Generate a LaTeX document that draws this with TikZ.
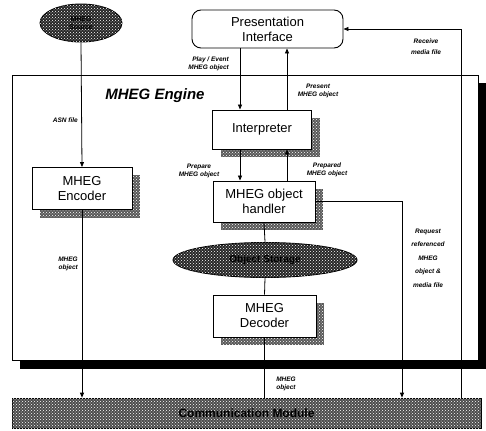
\documentclass[tikz,border=0pt]{standalone}
\usepackage{fontspec}
\setmainfont{Liberation Sans}
\usetikzlibrary{patterns,shadows,arrows.meta,shapes.geometric}
\begin{document}
\begin{tikzpicture}[x=1pt,y=-1pt,
  box/.style={draw,line width=0.9pt,fill=white,minimum width=100pt,minimum height=42pt,inner sep=0pt,align=center,font=\fontsize{13}{15}\selectfont},
  sbox/.style={box,general shadow={shadow xshift=8pt,shadow yshift=-8pt,fill=black!65,postaction={pattern=crosshatch dots,pattern color=white}}},
  dark/.style={draw,line width=0.9pt,fill=black!85,postaction={pattern=crosshatch dots,pattern color=white}},
  lab/.style={font=\fontsize{6.5}{7.5}\selectfont\bfseries\itshape,inner sep=0pt,align=center},
  conn/.style={line width=0.8pt},
  arr/.style={conn,-{Triangle[length=5pt,width=4pt]}}
]
\useasboundingbox (0,0) rectangle (486,430);
% engine frame with shadow
\fill[black] (20,83) rectangle (486,369);
\node[draw,line width=0.9pt,fill=white,minimum width=466pt,minimum height=285pt,inner sep=0pt] (engine) at (245,217.5) {};
\node[font=\fontsize{15}{17}\selectfont\bfseries\itshape,inner sep=0pt] (title) at (155,96) {MHEG Engine};
% nodes
\node[dark,ellipse,minimum width=82pt,minimum height=38pt,inner sep=0pt,align=center,font=\fontsize{7}{8}\selectfont\bfseries] (src) at (81,23) {MHEG\\Source};
\node[draw,line width=0.9pt,rounded corners=9pt,fill=white,minimum width=151pt,minimum height=38pt,inner sep=0pt,align=center,font=\fontsize{13}{15}\selectfont] (pres) at (267.5,29) {Presentation\\Interface};
\node[sbox] (enc) at (82,188.5) {MHEG\\Encoder};
\node[sbox,minimum width=99pt,minimum height=39pt] (interp) at (262,129.5) {Interpreter};
\node[sbox,minimum width=102pt,minimum height=41pt] (hand) at (264,201.5) {MHEG object\\handler};
\node[dark,ellipse,minimum width=184pt,minimum height=35pt,inner sep=0pt,font=\fontsize{10}{12}\selectfont\bfseries] (store) at (265,260) {Object Storage};
\node[draw,line width=0.6pt,fill=black!70,postaction={pattern=crosshatch dots,pattern color=white},minimum width=469pt,minimum height=30pt,inner sep=0pt,font=\fontsize{12}{14}\selectfont\bfseries] (comm) at (246.5,413) {Communication Module};
\node[sbox,minimum width=103pt,minimum height=42pt] (dec) at (264.5,316) {MHEG\\Decoder};
% helper coordinates
\coordinate (pl) at (240,0);
\coordinate (pr) at (287,0);
\coordinate (rx) at (402,0);
\coordinate (vx) at (461,0);
% connectors
\draw[arr] (src.south) -- (enc.north);
\draw[arr] (enc.south) -- (enc.south |- comm.north);
\draw[arr] (pres.south -| pl) -- (interp.north -| pl);
\draw[arr] (interp.north -| pr) -- (pres.south -| pr);
\draw[arr] (interp.south -| pl) -- (hand.north -| pl);
\draw[arr] (hand.north -| pr) -- (interp.south -| pr);
\draw[conn] (hand.south) -- (store.north);
\draw[conn] (store.south) -- (dec.north);
\draw[conn] (dec.south) -- (dec.south |- comm.north);
\draw[arr] (hand.east) -- (hand.east -| rx) -- (rx |- comm.north);
\draw[arr] (vx |- comm.north) -- (vx |- pres.east) -- (pres.east);
% labels
\node[lab,anchor=east,align=right] (l1) at (78,120) {ASN file};
\node[lab,anchor=east,align=right] (l2) at (78,264) {MHEG\\object};
\node[lab,anchor=east,align=right] (l3) at (229,64) {Play / Event\\MHEG object};
\node[lab] (l4) at (318,91) {Present\\MHEG object};
\node[lab] (l5) at (199,171) {Prepare\\MHEG object};
\node[lab] (l6) at (327,170) {Prepared\\MHEG object};
\node[lab] (l7) at (286,384) {MHEG\\object};
\node[lab,font=\fontsize{6.5}{13.5}\selectfont\bfseries\itshape] (l8) at (428,258) {Request\\referenced\\MHEG\\object \&\\media file};
\node[lab,font=\fontsize{6.5}{11}\selectfont\bfseries\itshape] (l9) at (426,47) {Receive\\media file};
\end{tikzpicture}
\end{document}
